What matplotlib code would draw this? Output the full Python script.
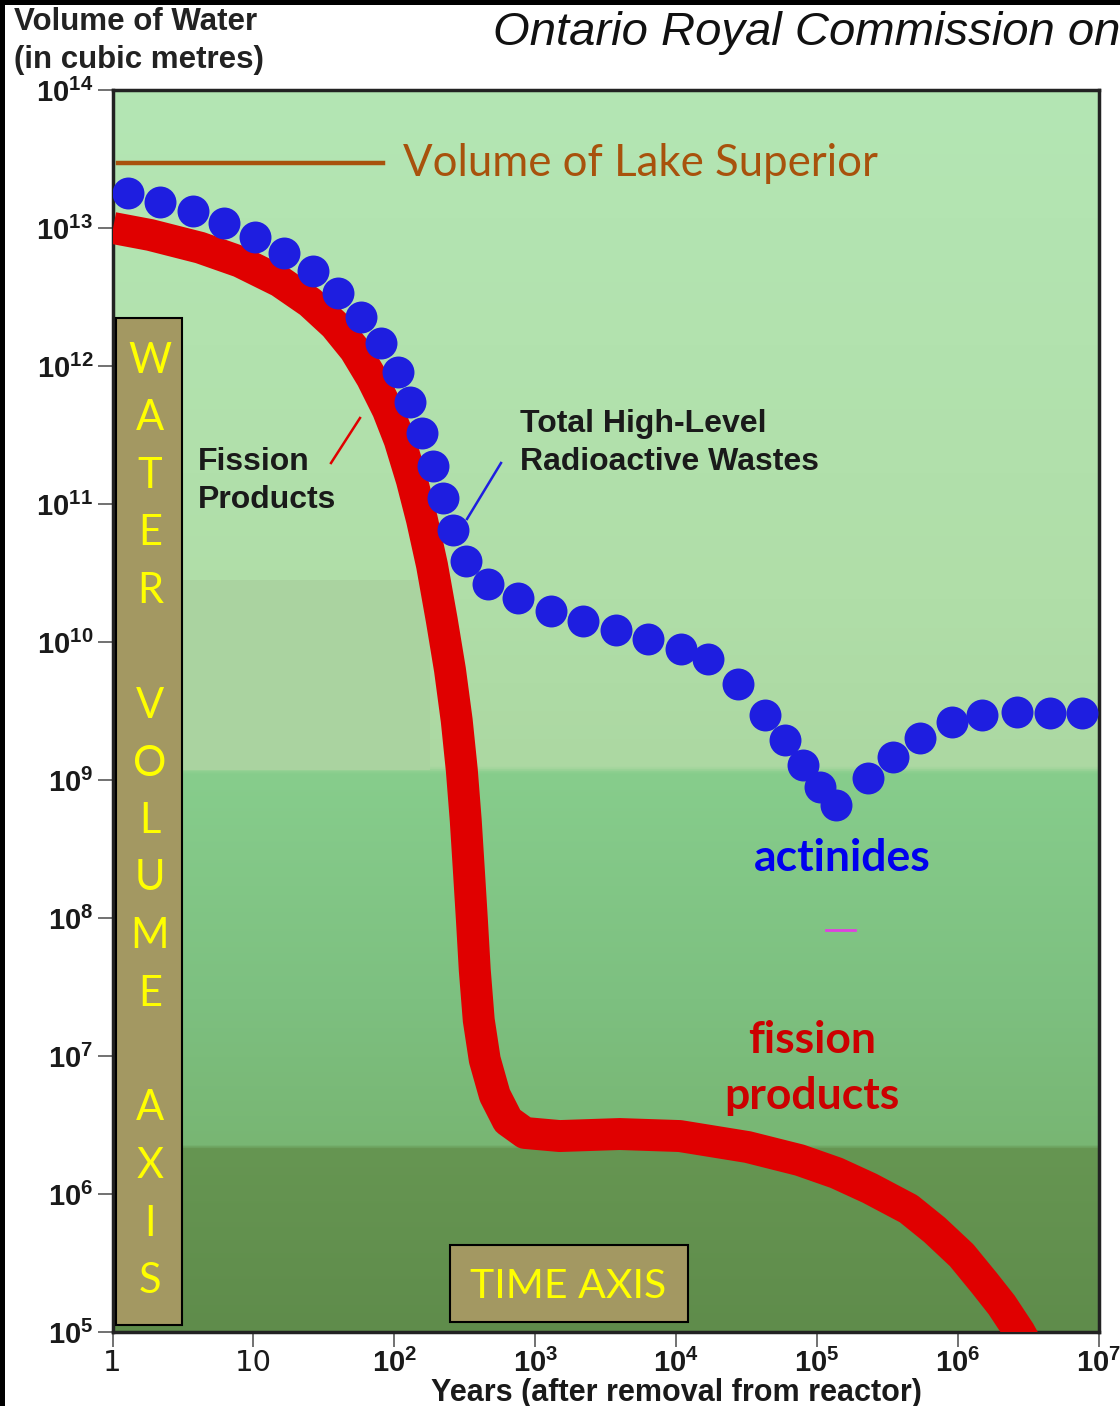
import numpy as np
import matplotlib
matplotlib.use("Agg")
import matplotlib.pyplot as plt
from matplotlib.patches import Rectangle
from matplotlib.lines import Line2D

# total high-level wastes (blue dots), years vs m^3 of water
total_years = [1.29, 2.17, 3.72, 6.18, 10.3, 16.4, 26.4, 39.7, 57.8, 80.2,
               106, 129, 157, 187, 221, 260, 321, 460, 752, 1290,
               2170, 3720, 6280, 10800, 16700, 27300, 42500, 58900, 78900,
               104000, 137000, 228000, 343000, 533000, 899000, 1.49e6,
               2.60e6, 4.46e6, 7.52e6]
total_volume = [1.79e13, 1.54e13, 1.33e13, 1.09e13, 8.6e12, 6.6e12, 4.9e12,
                3.4e12, 2.26e12, 1.47e12, 9.1e11, 5.5e11, 3.27e11, 1.88e11,
                1.10e11, 6.5e10, 3.86e10, 2.63e10, 2.08e10, 1.68e10, 1.42e10,
                1.22e10, 1.05e10, 8.9e9, 7.5e9, 5.0e9, 2.96e9, 1.95e9, 1.29e9,
                8.9e8, 6.6e8, 1.03e9, 1.47e9, 2.01e9, 2.63e9, 2.96e9, 3.11e9,
                3.06e9, 3.06e9]

# fission products (thick red curve)
fission_years = [1.01, 1.85, 4.18, 8.02, 15.4, 25.2, 37.8, 52.5, 69.2, 89.9,
                 109, 133, 157, 185, 217, 248, 277, 301, 321, 338, 355, 372,
                 397, 438, 516, 638, 843, 1490, 3970, 10600, 32100, 75200,
                 137000, 236000, 446000, 681000, 1.06e6, 1.54e6, 2.04e6,
                 2.73e6, 3.5e6]
fission_volume = [1.0e13, 8.9e12, 7.2e12, 5.7e12, 4.1e12, 2.9e12, 1.98e12,
                  1.31e12, 8.2e11, 4.8e11, 2.9e11, 1.49e11, 7.7e10, 3.6e10,
                  1.44e10, 6.3e9, 2.7e9, 1.18e9, 5.1e8, 2.2e8, 9.7e7, 4.2e7,
                  1.82e7, 9.4e6, 5.2e6, 3.4e6, 2.77e6, 2.63e6, 2.72e6, 2.63e6,
                  2.19e6, 1.76e6, 1.42e6, 1.10e6, 7.8e5, 5.5e5, 3.6e5, 2.26e5,
                  1.57e5, 1.0e5, 6.3e4]

# volume of lake superior reference line
lake_years = [1.09, 82.8]
lake_volume = [2.95e13, 2.95e13]

# stray magenta dash in the scan
dash_years = [1.15e5, 1.85e5]
dash_volume = [8.2e7, 8.2e7]

x_ticks = [1, 10, 1e2, 1e3, 1e4, 1e5, 1e6, 1e7]
x_labels = ["1", "10", r"$10^2$", r"$10^3$", r"$10^4$", r"$10^5$",
            r"$10^6$", r"$10^7$"]
y_ticks = [1e5, 1e6, 1e7, 1e8, 1e9, 1e10, 1e11, 1e12, 1e13, 1e14]
y_labels = [r"$10^{%d}$" % e for e in range(5, 15)]

W, H = 1120, 1406

plt.rcParams["mathtext.fontset"] = "custom"
plt.rcParams["mathtext.rm"] = "Liberation Sans:bold"
plt.rcParams["mathtext.it"] = "Liberation Sans:bold"
plt.rcParams["mathtext.bf"] = "Liberation Sans:bold"

fig = plt.figure(figsize=(W / 100, H / 100), dpi=100)
fig.patch.set_facecolor("white")


def fx(px):
    return px / W


def fy(py):
    return 1 - py / H


ax = fig.add_axes([fx(112.5), fy(1332), fx(1099) - fx(112.5), fy(90) - fy(1332)])
ax.set_xscale("log")
ax.set_yscale("log")
ax.set_xlim(1, 1e7)
ax.set_ylim(1e5, 1e14)

# green background bands
stops = [0.0, 0.147, 0.150, 0.268, 0.450, 0.455, 0.59, 1.0]
cols = np.array([[95, 140, 75], [102, 150, 82], [120, 182, 115],
                 [125, 192, 128], [135, 205, 140], [172, 216, 162],
                 [176, 222, 168], [180, 230, 180]]) / 255.0
yy = np.linspace(0, 1, 600)
grad = np.stack([np.interp(yy, stops, cols[:, i]) for i in range(3)], axis=1)
grad = grad[::-1][:, None, :]
ax.imshow(grad, extent=[0, 1, 0, 1], transform=ax.transAxes,
          aspect="auto", zorder=0)
ax.add_patch(Rectangle(((180 - 112.5) / 986.5, (1332 - 770) / 1242),
                       (430 - 180) / 986.5, (770 - 580) / 1242,
                       transform=ax.transAxes, facecolor="#aad3a0",
                       edgecolor="none", zorder=0.5))

ax.plot(lake_years, lake_volume, color="#a8520c", lw=3.2, zorder=2)
ax.plot(fission_years, fission_volume, color="#e00000", lw=23,
        solid_capstyle="butt", solid_joinstyle="round", zorder=3)
ax.plot(total_years, total_volume, "o", color="#1e1ee0", ms=23,
        markeredgewidth=0, zorder=4)
ax.plot(dash_years, dash_volume, color="#e040e0", lw=2, zorder=2)

ax.set_xticks(x_ticks, x_labels)
ax.set_yticks(y_ticks, y_labels)
ax.minorticks_off()
ax.tick_params(axis="both", length=11, width=1.3, color="#666666",
               labelsize=21, labelcolor="#1a1a1a")
ax.tick_params(axis="x", pad=1)
ax.tick_params(axis="y", pad=3)
for s in ax.spines.values():
    s.set_color("#222222")
    s.set_linewidth(2.5)

ax.set_xlabel("Years (after removal from reactor)", fontsize=22,
              fontweight="bold", family="Liberation Sans", color="#1a1a1a")
ax.xaxis.set_label_coords((676 - 112.5) / 986.5, -(1393 - 1332) / 1242)
ax.xaxis.label.set_va("center")

# headline and axis caption
fig.text(fx(493), fy(33), "Ontario Royal Commission on", fontsize=34,
         style="italic", family="Liberation Sans", color="#111111",
         va="center", ha="left")
fig.text(fx(14), fy(22), "Volume of Water", fontsize=22.5, fontweight="bold",
         family="Liberation Sans", color="#222222", va="center")
fig.text(fx(14), fy(60), "(in cubic metres)", fontsize=22.5, fontweight="bold",
         family="Liberation Sans", color="#222222", va="center")

# black frame on top and left edge of the slide
fig.add_artist(Rectangle((0, fy(5)), 1, fy(0) - fy(5), transform=fig.transFigure,
                         facecolor="black", edgecolor="none", zorder=10))
fig.add_artist(Rectangle((0, 0), fx(5), 1, transform=fig.transFigure,
                         facecolor="black", edgecolor="none", zorder=10))

# labels inside plot
fig.text(fx(403), fy(164), "Volume of Lake Superior", fontsize=31.5,
         family="Lato", color="#a8520c", va="center", zorder=6)
fig.text(fx(198), fy(462), "Fission", fontsize=23, fontweight="bold",
         family="Liberation Sans", color="#1a1a1a", va="center", zorder=6)
fig.text(fx(198), fy(500), "Products", fontsize=23, fontweight="bold",
         family="Liberation Sans", color="#1a1a1a", va="center", zorder=6)
fig.text(fx(520), fy(424), "Total High-Level", fontsize=23, fontweight="bold",
         family="Liberation Sans", color="#1a1a1a", va="center", zorder=6)
fig.text(fx(520), fy(462), "Radioactive Wastes", fontsize=23,
         fontweight="bold", family="Liberation Sans", color="#1a1a1a",
         va="center", zorder=6)
fig.add_artist(Line2D([fx(331), fx(360)], [fy(463), fy(418)], color="#e00000",
                      lw=1.8, zorder=6))
fig.add_artist(Line2D([fx(467), fx(501)], [fy(519), fy(463)], color="#1e1ee0",
                      lw=1.8, zorder=6))

fig.text(fx(842), fy(858), "actinides", fontsize=32, fontweight="bold",
         family="Lato", color="#0000ee", ha="center", va="center", zorder=6)
fig.text(fx(812), fy(1040), "fission", fontsize=32, fontweight="bold",
         family="Lato", color="#cc0000", ha="center", va="center", zorder=6)
fig.text(fx(812), fy(1096), "products", fontsize=32, fontweight="bold",
         family="Lato", color="#cc0000", ha="center", va="center", zorder=6)

# axis name boxes
box_col = "#a39862"
fig.add_artist(Rectangle((fx(116), fy(1325)), fx(182) - fx(116),
                         fy(318) - fy(1325), transform=fig.transFigure,
                         facecolor=box_col, edgecolor="black", lw=1.5,
                         zorder=7))
for i, ch in enumerate("WATER VOLUME AXIS"):
    if ch == " ":
        continue
    fig.text(fx(150), fy(361 + i * 57.5), ch, fontsize=30, family="Lato",
             color="#ffff00", ha="center", va="center", zorder=8)

fig.add_artist(Rectangle((fx(450), fy(1322)), fx(688) - fx(450),
                         fy(1245) - fy(1322), transform=fig.transFigure,
                         facecolor=box_col, edgecolor="black", lw=1.5,
                         zorder=7))
fig.text(fx(568), fy(1287), "TIME AXIS", fontsize=29.5, family="Lato",
         color="#ffff00", ha="center", va="center", zorder=8)

fig.savefig("out.png", dpi=100)
